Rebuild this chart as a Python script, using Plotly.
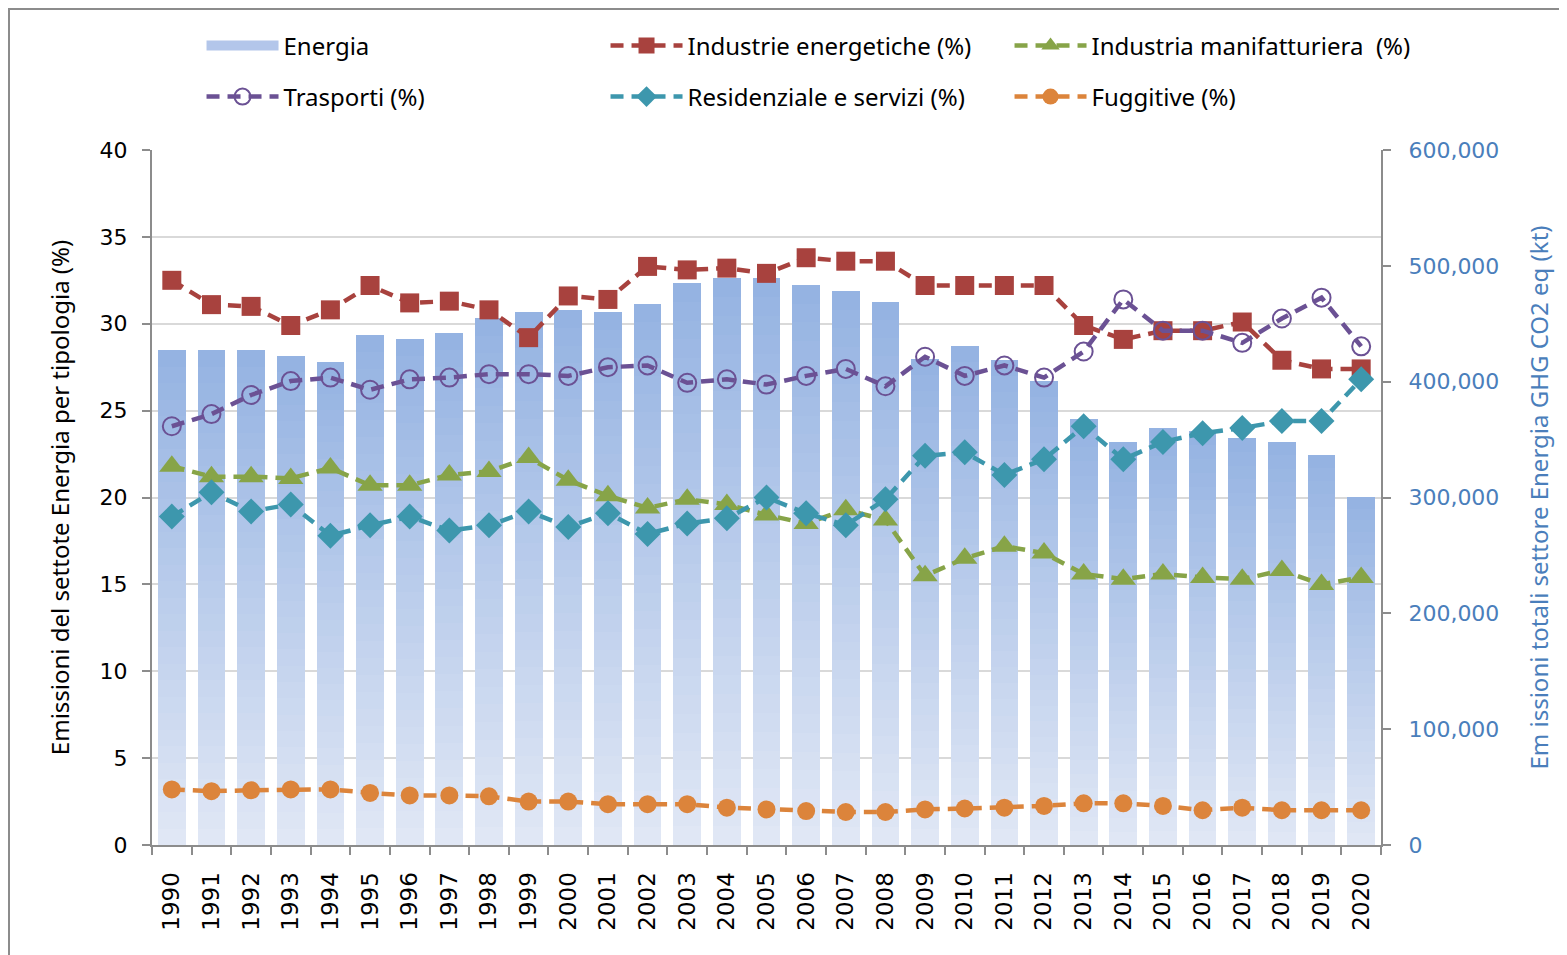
import plotly.graph_objects as go

# years and series
anni = [str(a) for a in range(1990, 2021)]

energia = [427000, 427000, 427000, 422000, 417000, 440000, 437000, 442000, 455000, 460000,
           462000, 460000, 467000, 485000, 489500, 489500, 483500, 478000, 469000, 420000,
           431000, 419000, 400500, 368000, 348000, 360000, 357000, 351000, 348000, 337000,
           300500]

industrie_energetiche = [32.5, 31.1, 31.0, 29.9, 30.8, 32.2, 31.2, 31.3, 30.8, 29.2,
                         31.6, 31.4, 33.3, 33.1, 33.2, 32.9, 33.8, 33.6, 33.6, 32.2,
                         32.2, 32.2, 32.2, 29.9, 29.1, 29.6, 29.6, 30.1, 27.9, 27.4,
                         27.4]

industria_manifatturiera = [21.8, 21.2, 21.2, 21.1, 21.7, 20.7, 20.7, 21.3, 21.5, 22.3,
                            21.0, 20.1, 19.4, 19.9, 19.6, 19.0, 18.5, 19.3, 18.7, 15.5,
                            16.5, 17.2, 16.8, 15.6, 15.3, 15.6, 15.4, 15.3, 15.8, 15.0,
                            15.4]

trasporti = [24.1, 24.8, 25.9, 26.7, 26.9, 26.2, 26.8, 26.9, 27.1, 27.1,
             27.0, 27.5, 27.6, 26.6, 26.8, 26.5, 27.0, 27.4, 26.4, 28.1,
             27.0, 27.6, 26.9, 28.4, 31.4, 29.6, 29.6, 28.9, 30.3, 31.5,
             28.7]

residenziale = [18.9, 20.3, 19.2, 19.6, 17.8, 18.4, 18.9, 18.1, 18.4, 19.2,
                18.3, 19.1, 17.9, 18.5, 18.8, 20.0, 19.1, 18.4, 19.9, 22.4,
                22.6, 21.3, 22.2, 24.1, 22.2, 23.2, 23.7, 24.0, 24.4, 24.4,
                26.8]

fuggitive = [3.2, 3.1, 3.15, 3.2, 3.2, 3.0, 2.85, 2.85, 2.8, 2.5,
             2.5, 2.35, 2.35, 2.35, 2.15, 2.05, 1.95, 1.9, 1.9, 2.05,
             2.1, 2.15, 2.25, 2.4, 2.4, 2.25, 2.0, 2.15, 2.0, 2.0,
             2.0]

FONT_TXT = "Noto Sans, sans-serif"
FONT_NUM = "DejaVu Sans, Verdana, sans-serif"
BLU = "#4a7ebb"
GRIGIO = "#8c8c8c"

fig = go.Figure()

# legend entry for the bars (a wide band, like the reference)
fig.add_trace(go.Scatter(
    x=[None], y=[None], mode="lines", name="Energia",
    line=dict(color="#b3c6ea", width=16), yaxis="y", legend="legend",
    legendrank=1,
))

# bars with a vertical gradient: each bar is split into stacked slices
n_fette = 30
c_basso = (224, 231, 245)
c_alto = (149, 179, 226)
for k in range(n_fette):
    t = k / (n_fette - 1)
    col = "rgb(%d,%d,%d)" % tuple(round(c_basso[i] + (c_alto[i] - c_basso[i]) * t) for i in range(3))
    fig.add_trace(go.Bar(
        x=anni, y=[v / n_fette for v in energia],
        name="Energia", marker=dict(color=col, line=dict(width=0)),
        showlegend=False, yaxis="y", hoverinfo="skip" if k else None,
    ))

serie = [
    ("Industrie energetiche (%)", industrie_energetiche, "#a8423e",
     dict(symbol="square", size=19, color="#a8423e"), "legend"),
    ("Industria manifatturiera  (%)", industria_manifatturiera, "#87a448",
     dict(symbol="triangle-up", size=22, color="#87a448"), "legend"),
    ("Trasporti (%)", trasporti, "#6b5194",
     dict(symbol="circle-open", size=18, color="#6b5194", line=dict(width=2, color="#6b5194")), "legend2"),
    ("Residenziale e servizi (%)", residenziale, "#3d97ad",
     dict(symbol="diamond", size=20, color="#3d97ad"), "legend2"),
    ("Fuggitive (%)", fuggitive, "#dc843b",
     dict(symbol="circle", size=18, color="#dc843b"), "legend2"),
]
for i, (nome, vals, col, mk, leg) in enumerate(serie):
    fig.add_trace(go.Scatter(
        x=anni, y=vals, name=nome, mode="lines+markers",
        line=dict(color=col, width=4.5, dash="13px,8px"),
        marker=mk, yaxis="y2", legend=leg, legendrank=2 + i,
    ))

legenda = dict(
    orientation="h", xref="container", yref="container",
    x=0.1235, xanchor="left", yanchor="middle",
    entrywidth=317, entrywidthmode="pixels", traceorder="normal",
    font=dict(family=FONT_TXT, size=24), bgcolor="rgba(0,0,0,0)", itemwidth=72,
)

fig.update_layout(
    width=1567, height=955,
    margin=dict(l=144, r=194, t=142, b=118, autoexpand=False),
    paper_bgcolor="white", plot_bgcolor="white",
    barmode="stack", bargap=0.3,
    font=dict(family=FONT_TXT, size=22, color="black"),
    xaxis=dict(
        type="category", range=[-0.5, 30.5], automargin=False,
        tickangle=-90, tickson="boundaries", ticklabelstandoff=16,
        ticks="outside", ticklen=8, tickcolor=GRIGIO, tickwidth=2,
        showline=True, linecolor=GRIGIO, linewidth=2,
        tickfont=dict(family=FONT_NUM, size=23, color="black"),
        showgrid=False,
    ),
    yaxis=dict(
        side="right", range=[0, 600000], dtick=100000, tickformat=",d",
        automargin=False, ticklabelstandoff=13,
        ticks="outside", ticklen=8, tickcolor=GRIGIO, tickwidth=2,
        showline=True, linecolor=GRIGIO, linewidth=2, showgrid=False,
        zeroline=False,
        tickfont=dict(family=FONT_NUM, size=22, color=BLU),
        title=dict(text="Em issioni totali settore Energia GHG CO2 eq (kt)",
                   font=dict(family=FONT_TXT, size=24, color=BLU), standoff=33),
    ),
    yaxis2=dict(
        side="left", overlaying="y", range=[0, 40], dtick=5, automargin=False,
        ticklabelstandoff=10,
        ticks="outside", ticklen=8, tickcolor=GRIGIO, tickwidth=2,
        showline=True, linecolor=GRIGIO, linewidth=2,
        showgrid=True, gridcolor="#d9d9d9", gridwidth=2, zeroline=False,
        tickfont=dict(family=FONT_NUM, size=22, color="black"),
        title=dict(text="Emissioni del settote Energia per tipologia (%)",
                   font=dict(family=FONT_TXT, size=24, color="black"), standoff=23),
    ),
    legend=dict(legenda, y=1 - 38 / 955),
    legend2=dict(legenda, y=1 - 89 / 955),
    shapes=[dict(type="rect", xref="paper", yref="paper",
                 x0=-143 / 1229, x1=1.2, y0=-0.2, y1=1 + 141 / 695,
                 line=dict(color=GRIGIO, width=2), layer="below")],
    showlegend=True,
)

fig.write_html("out.html")
